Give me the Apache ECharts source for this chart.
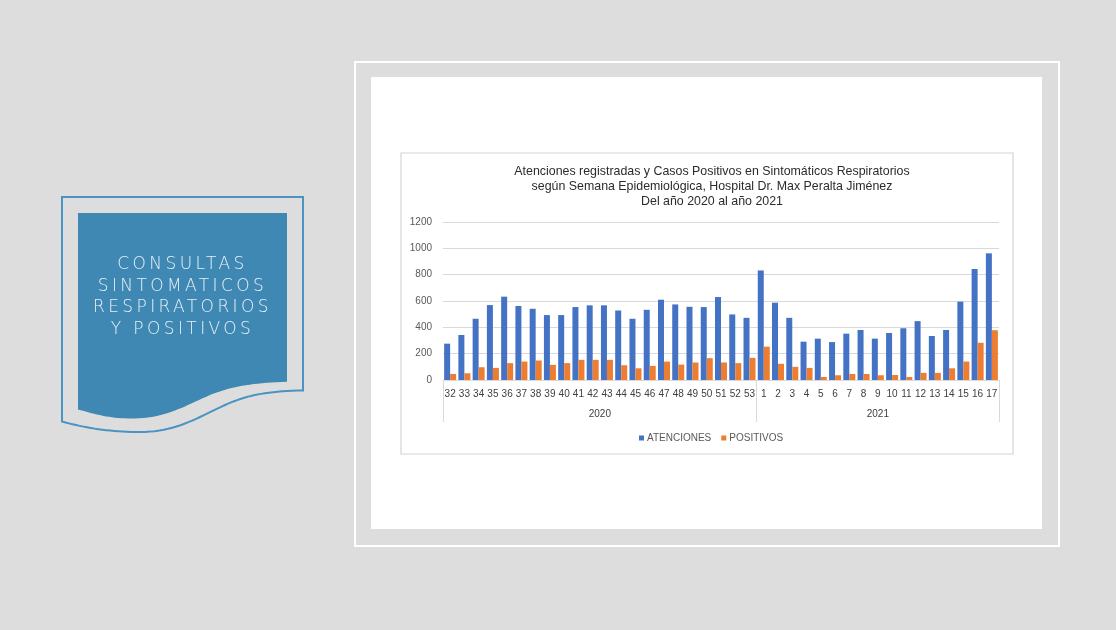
<!DOCTYPE html>
<html>
<head>
<meta charset="utf-8">
<script src="https://cdn.jsdelivr.net/npm/echarts@6/dist/echarts.min.js"></script>
<style>
html,body{margin:0;padding:0;background:#dddddd;}
#c{width:1116px;height:630px;position:absolute;left:0;top:0;}
#banner{position:absolute;left:74px;top:253px;width:217px;text-align:center;color:#e8f0f5;
font-family:"DejaVu Sans",sans-serif;font-size:17px;line-height:21.5px;letter-spacing:3.4px;font-weight:300;}
</style>
</head>
<body>
<div id="c"></div>
<div id="banner">CONSULTAS<br>SINTOMATICOS<br>RESPIRATORIOS<br>Y POSITIVOS</div>
<script>
var weeks = ['32','33','34','35','36','37','38','39','40','41','42','43','44','45','46','47','48','49','50','51','52','53',
             '1','2','3','4','5','6','7','8','9','10','11','12','13','14','15','16','17'];
var years = ['2020','2021'];
var yearCounts = [22, 17];
var atenciones = [276,342,465,569,633,562,541,493,493,554,567,567,528,465,533,610,574,556,554,630,498,472,
                  832,587,472,291,314,288,352,380,314,357,393,447,334,380,595,843,962];
var positivos = [46,51,97,92,128,140,148,115,128,153,153,153,112,89,107,140,117,133,166,133,128,168,
                 253,123,100,92,23,36,46,46,36,38,23,54,54,89,140,283,378];
var yTicks = [0,200,400,600,800,1000,1200];

var total = yearCounts[0] + yearCounts[1];
var bounds = [0, yearCounts[0], total];
var centers = [yearCounts[0]/2, yearCounts[0] + yearCounts[1]/2];

// decorative shape helper: start point, then segments (line or cubic bezier)
function shapePoints(start, segs) {
  var pts = [start.slice()];
  var cur = start.slice();
  segs.forEach(function (s) {
    if (s.length === 2) { pts.push(s.slice()); cur = s.slice(); }
    else {
      for (var i = 1; i <= 20; i++) {
        var t = i / 20, u = 1 - t;
        var x = u*u*u*cur[0] + 3*u*u*t*s[0] + 3*u*t*t*s[2] + t*t*t*s[4];
        var y = u*u*u*cur[1] + 3*u*u*t*s[1] + 3*u*t*t*s[3] + t*t*t*s[5];
        pts.push([x, y]);
      }
      cur = [s[4], s[5]];
    }
  });
  return pts;
}
var outlinePts = shapePoints([62,197], [[303,197],[303,390.5],[265,391,245,396,225,405],[195,419,175,432,140,432],[110,432,85,428,62,421.5]]);
var fillPts = shapePoints([78,213], [[287,213],[287,381.7],[250,383,230,387,210,395],[185,406,165,418,135,418.5],[110,419,95,414,78,409.5]]);

var chart = echarts.init(document.getElementById('c'));
chart.setOption({
  backgroundColor: '#dddddd',
  animation: false,
  title: {
    text: 'Atenciones registradas y Casos Positivos en Sintomáticos Respiratorios\nsegún Semana Epidemiológica, Hospital Dr. Max Peralta Jiménez\nDel año 2020 al año 2021',
    left: 707, top: 159, textAlign: 'center',
    textStyle: {fontFamily: 'Liberation Sans', fontSize: 12.4, fontWeight: 'normal', color: '#2b2b2b', lineHeight: 15}
  },
  legend: {
    left: 634, top: 428, itemWidth: 5, itemHeight: 5, itemGap: 10,
    icon: 'rect',
    textStyle: {fontFamily: 'Liberation Sans', fontSize: 10, color: '#595959', padding: [0, 0, 0, -2]},
    data: ['ATENCIONES', 'POSITIVOS']
  },
  grid: {left: 443, right: 117, top: 222, bottom: 250},
  xAxis: [{
    type: 'category', data: weeks, position: 'bottom',
    axisLine: {lineStyle: {color: '#d9d9d9'}},
    axisTick: {show: false},
    axisLabel: {interval: 0, fontFamily: 'Liberation Sans', fontSize: 10, color: '#404040', margin: 9}
  }, {
    type: 'value', min: 0, max: total, position: 'bottom',
    axisLine: {show: false},
    splitLine: {show: false},
    axisTick: {show: true, customValues: bounds, length: 42, lineStyle: {color: '#d9d9d9'}},
    axisLabel: {customValues: centers, margin: 29, fontFamily: 'Liberation Sans', fontSize: 10, color: '#404040',
      formatter: function (v) { return v < yearCounts[0] ? years[0] : years[1]; }}
  }],
  yAxis: {
    type: 'value', min: 0, max: 1200, interval: 200,
    axisLine: {show: false}, axisTick: {show: false},
    splitLine: {lineStyle: {color: '#d9d9d9'}},
    axisLabel: {fontFamily: 'Liberation Sans', fontSize: 10, color: '#595959', margin: 11,
      formatter: function (v) { return yTicks.indexOf(v) >= 0 ? String(v) : ''; }}
  },
  series: [{
    name: 'ATENCIONES', type: 'bar', data: atenciones, xAxisIndex: 0,
    barWidth: 6, barGap: '0%', itemStyle: {color: '#4472C4'}
  }, {
    name: 'POSITIVOS', type: 'bar', data: positivos, xAxisIndex: 0,
    barWidth: 6, barGap: '0%', itemStyle: {color: '#ED7D31'}
  }],
  graphic: [
    {type: 'rect', z: -10, silent: true, shape: {x: 355, y: 62, width: 704, height: 484},
      style: {fill: 'none', stroke: '#ffffff', lineWidth: 2}},
    {type: 'rect', z: -10, silent: true, shape: {x: 371, y: 77, width: 671, height: 452},
      style: {fill: '#ffffff'}},
    {type: 'rect', z: -9, silent: true, shape: {x: 401, y: 153, width: 612, height: 301},
      style: {fill: '#ffffff', stroke: '#d4d4d4', lineWidth: 1.2}},
    {type: 'polygon', z: -9, silent: true, shape: {points: outlinePts},
      style: {fill: 'none', stroke: '#4a93c3', lineWidth: 2}},
    {type: 'polygon', z: -9, silent: true, shape: {points: fillPts},
      style: {fill: '#3f88b4'}}
  ]
});
</script>
</body>
</html>
